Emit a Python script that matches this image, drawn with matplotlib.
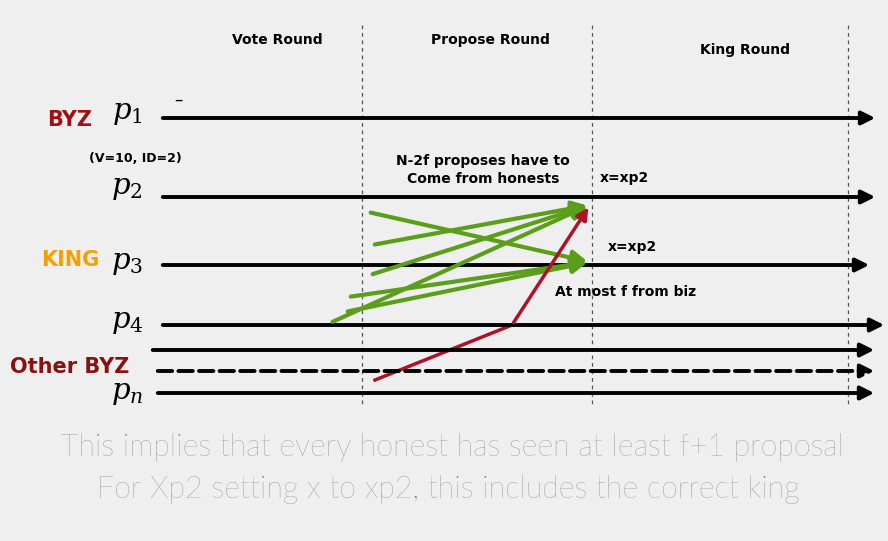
import matplotlib.pyplot as plt

plt.rcParams["mathtext.fontset"] = "dejavuserif"

# process timelines: (y, x_start, x_end, style)
proc_y = [118, 197, 265, 325, 350, 371, 393]
proc_x0 = [160, 160, 160, 160, 150, 155, 155]
proc_x1 = [878, 878, 872, 887, 877, 877, 877]
proc_dashed = [False, False, False, False, False, True, False]

round_x = [362, 592, 848]
round_names = ["Vote Round", "Propose Round", "King Round"]
round_label_pos = [(277, 40), (490, 40), (745, 50)]

proc_names = [r"$p_1$", r"$p_2$", r"$p_3$", r"$p_4$", r"$p_n$"]
proc_name_y = [113, 188, 263, 322, 393]

green_from = [(368, 212), (372, 245), (370, 275), (330, 323), (348, 297), (345, 312)]
green_to = [(590, 262), (590, 205), (590, 205), (590, 205), (590, 262), (590, 262)]
red_path = [(375, 380), (512, 325), (590, 205)]

fig = plt.figure(figsize=(8.88, 5.41), dpi=100)
ax = fig.add_axes([0, 0, 1, 1])
ax.set_xlim(0, 888)
ax.set_ylim(541, 0)
ax.axis("off")
fig.patch.set_facecolor("#efefef")

for y, x0, x1, d in zip(proc_y, proc_x0, proc_x1, proc_dashed):
    ax.annotate("", xy=(x1, y), xytext=(x0, y),
                arrowprops=dict(arrowstyle="-|>", lw=2.8, color="black",
                                linestyle="--" if d else "-", mutation_scale=20))

for x in round_x:
    ax.plot([x, x], [25, 405], ls="--", lw=0.9, color="#555555", dashes=(3, 3))
for name, (x, y) in zip(round_names, round_label_pos):
    ax.text(x, y, name, ha="center", va="center", fontsize=10, fontweight="bold")

for name, y in zip(proc_names, proc_name_y):
    ax.text(127, y, name, ha="center", va="center", fontsize=21)

ax.text(70, 120, "BYZ", ha="center", va="center", fontsize=15, fontweight="bold", color="#a01010")
ax.text(70, 260, "KING", ha="center", va="center", fontsize=15, fontweight="bold", color="#f5a000")
ax.text(70, 367, "Other BYZ", ha="center", va="center", fontsize=15, fontweight="bold", color="#8b1010")
ax.text(135, 158, "(V=10, ID=2)", ha="center", va="center", fontsize=9, fontweight="bold")
ax.text(178, 100, "–", ha="center", va="center", fontsize=12)

for (x0, y0), (x1, y1) in zip(green_from, green_to):
    ax.annotate("", xy=(x1, y1), xytext=(x0, y0),
                arrowprops=dict(arrowstyle="-|>", lw=3, color="#5a9e1a", mutation_scale=22))
rx, ry = zip(*red_path)
ax.plot(rx[:2], ry[:2], color="#b0102a", lw=2.5)
ax.annotate("", xy=red_path[2], xytext=red_path[1],
            arrowprops=dict(arrowstyle="-|>", lw=2.5, color="#b0102a", mutation_scale=18))

ax.text(483, 170, "N-2f proposes have to\nCome from honests", ha="center", va="center",
        fontsize=10, fontweight="bold", linespacing=1.3)
ax.text(600, 178, "x=xp2", ha="left", va="center", fontsize=10, fontweight="bold")
ax.text(608, 247, "x=xp2", ha="left", va="center", fontsize=10, fontweight="bold")
ax.text(555, 292, "At most f from biz", ha="left", va="center", fontsize=10, fontweight="bold")

ax.text(452, 447, "This implies that every honest has seen at least f+1 proposal",
        ha="center", va="center", fontsize=22, color="#777777", family="Lato", fontweight="light")
ax.text(448, 490, "For Xp2 setting x to xp2, this includes the correct king",
        ha="center", va="center", fontsize=22, color="#777777", family="Lato", fontweight="light")

fig.savefig("out.png", dpi=100, facecolor=fig.get_facecolor())
